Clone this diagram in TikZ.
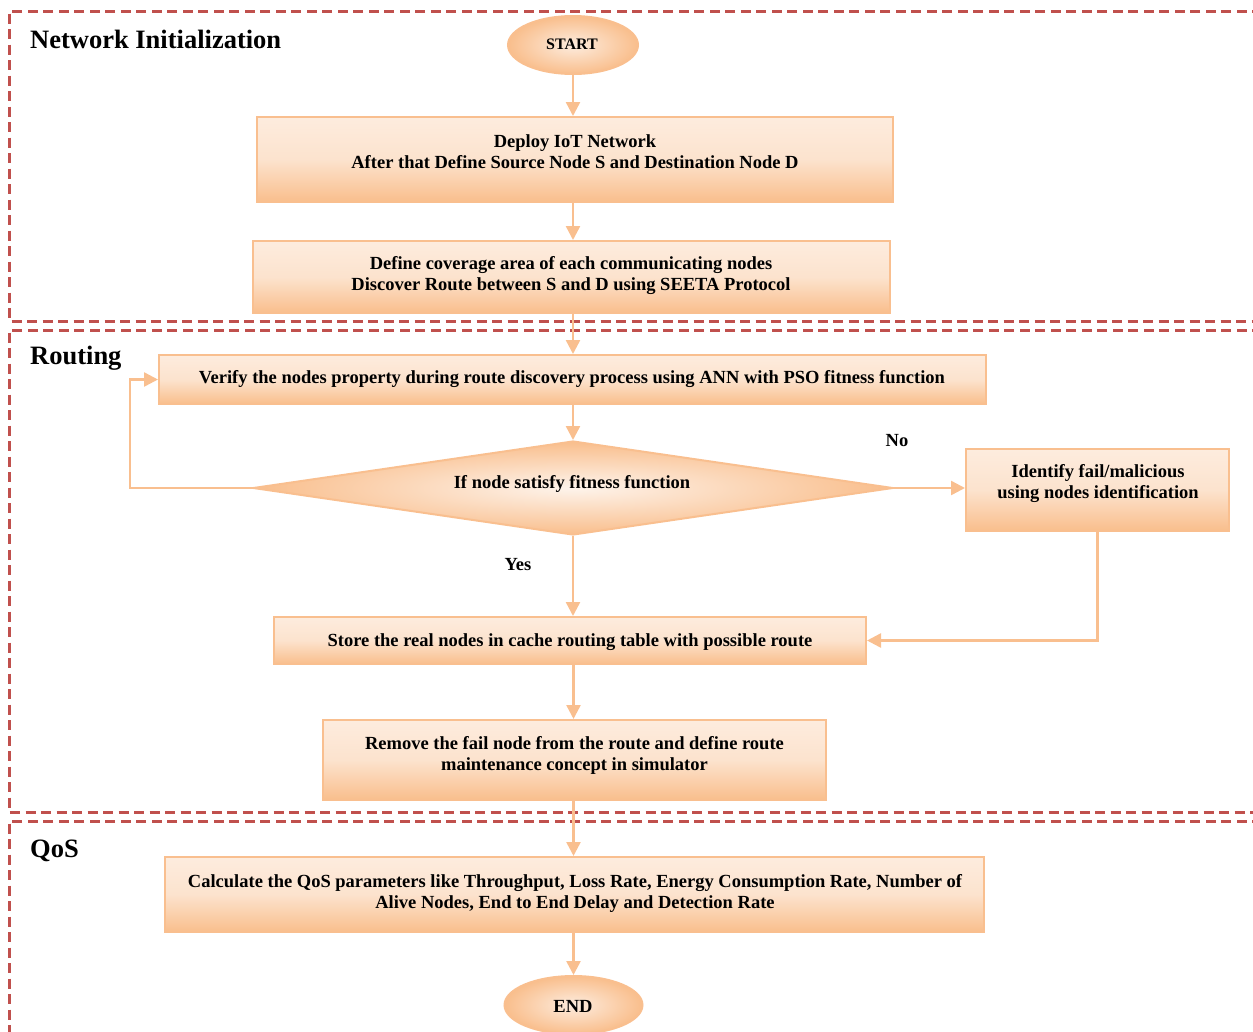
\documentclass[tikz,border=0pt]{standalone}
\usepackage{fontspec}
\setmainfont{Liberation Serif}
\usetikzlibrary{shapes.geometric,arrows.meta,calc}
\definecolor{lineC}{RGB}{249,191,143}
\definecolor{fillL}{RGB}{253,236,222}
\definecolor{fillD}{RGB}{249,190,140}
\definecolor{dashC}{RGB}{192,80,77}
\tikzset{
  boxst/.style={draw=lineC, line width=2pt, rectangle, inner sep=0pt,
    top color=fillL, bottom color=fillD, middle color=fillL!80!fillD},
  txt/.style={font=\fontsize{18.5}{21}\selectfont\bfseries, align=center, inner sep=0pt},
  ttl/.style={font=\fontsize{26.5}{30}\selectfont\bfseries, anchor=west, inner sep=0pt},
  ellst/.style={draw=lineC, line width=2pt, ellipse, inner sep=0pt,
    inner color=fillL, outer color=fillD},
  diast/.style={draw=lineC, line width=2pt, diamond, inner sep=0pt, aspect=6.8,
    inner color=fillL!60!white, outer color=fillD},
  arr/.style={draw=lineC, line width=2.5pt, -{Triangle[width=14pt,length=14pt]}},
  sect/.style={draw=dashC, line width=3pt, dash pattern=on 10pt off 5.5pt}
}
\begin{document}
\begin{tikzpicture}[x=1pt,y=-1pt]
\useasboundingbox (0,0) rectangle (1253,1031);
% sections
\draw[sect] (1262,11) -- (9,11) -- (9,321) -- (1262,321);
\draw[sect] (1262,330) -- (9,330) -- (9,812) -- (1262,812);
\draw[sect] (1262,821) -- (9,821) -- (9,1040);
\node[ttl] (t1) at (30,39) {Network Initialization};
\node[ttl] (t2) at (30,358) {Routing};
\node[ttl] (t3) at (30,851) {QoS};
% nodes
\node[ellst, minimum width=130, minimum height=58] (start) at (573,45) {};
\node[txt, font=\fontsize{16}{18}\selectfont\bfseries] (startt) at (572,44) {START};
\node[boxst, minimum width=636, minimum height=85] (deploy) at (575,159.5) {};
\node[txt] (deployt) at (575,152) {Deploy IoT Network\\After that Define Source Node S and Destination Node D};
\node[boxst, minimum width=637, minimum height=72] (cover) at (571.5,277) {};
\node[txt] (covert) at (571,276) {Define coverage area of each communicating nodes\\Discover Route between S and D using SEETA Protocol};
\node[boxst, minimum width=827, minimum height=49] (verify) at (572.5,379.5) {};
\node[txt] (verifyt) at (572,379) {Verify the nodes property during route discovery process using ANN with PSO fitness function};
\node[diast, minimum width=640, minimum height=94] (dia) at (573,488) {};
\node[txt] (diat) at (572,484) {If node satisfy fitness function};
\node[boxst, minimum width=263, minimum height=82] (ident) at (1097.5,490) {};
\node[txt] (identt) at (1098,484) {Identify fail/malicious\\using nodes identification};
\node[boxst, minimum width=592, minimum height=47] (store) at (570,640.5) {};
\node[txt] (storet) at (570,642) {Store the real nodes in cache routing table with possible route};
\node[boxst, minimum width=503, minimum height=80] (remove) at (574.5,760) {};
\node[txt] (removet) at (574.5,755) {Remove the fail node from the route and define route\\maintenance concept in simulator};
\node[boxst, minimum width=819, minimum height=75] (calc) at (574.5,894.5) {};
\node[txt] (calct) at (575,893) {Calculate the QoS parameters like Throughput, Loss Rate, Energy Consumption Rate, Number of\\Alive Nodes, End to End Delay and Detection Rate};
\node[ellst, minimum width=138, minimum height=58] (fin) at (573.5,1005) {};
\node[txt] (fint) at (573,1006) {END};
\node[txt] (nolab) at (897,441) {No};
\node[txt] (yeslab) at (518,565) {Yes};
% connectors
\draw[arr] (start.south) -- (start.south |- deploy.north);
\draw[arr] (deploy.south -| start.south) -- (start.south |- cover.north);
\draw[arr] (cover.south -| start.south) -- (start.south |- verify.north);
\draw[arr] (verify.south -| start.south) -- (dia.north);
\draw[arr] (dia.south) -- (dia.south |- store.north);
\draw[arr] (store.south -| fin.north) -- (fin.north |- remove.north);
\draw[arr] (remove.south -| fin.north) -- (fin.north |- calc.north);
\draw[arr] (calc.south -| fin.north) -- (fin.north);
\draw[arr] (dia.west) -- ++(-122,0) |- (verify.west);
\draw[arr] (dia.east) -- (dia.east -| ident.west);
\draw[arr] (ident.south) |- (store.east);
\end{tikzpicture}
\end{document}
